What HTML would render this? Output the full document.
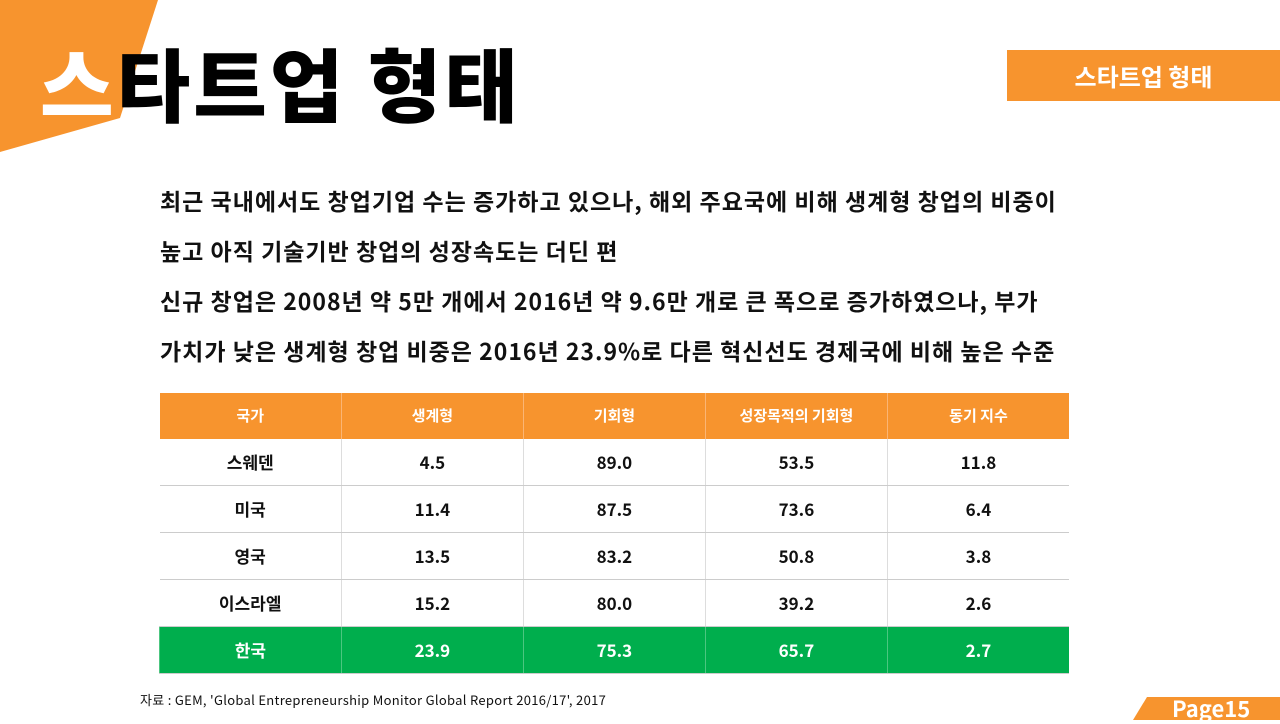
<!DOCTYPE html>
<html><head><meta charset="utf-8"><style>
body{margin:0;width:1280px;height:720px;overflow:hidden;background:#fff;position:relative;font-family:"Noto Sans CJK KR","Liberation Sans",sans-serif;}
.abs{position:absolute;}
table{border-collapse:collapse;position:absolute;left:159px;top:393px;width:910px;}
td,th{width:182px;text-align:center;vertical-align:middle;line-height:20px;font-size:17px;font-weight:bold;padding:0;border-left:1px solid #ddd;}
td:first-child,th:first-child{border-left:none;}
th{background:#f7942e;color:#fff;height:46px;font-size:15px;border-left:1px solid #fbb574;}
td{height:46px;border-bottom:1px solid #ccc;color:#111;}
tr.kr td{background:#00ae4d;color:#fff;border-left:1px solid #4cc680;}
.line{font-size:23px;font-weight:bold;color:#111;left:160px;letter-spacing:1px;white-space:nowrap;line-height:32px;}
</style></head><body>
<svg class="abs" style="left:0;top:0" width="1280" height="720">
<polygon points="0,0 158,0 120,118 0,152" fill="#f7942e"/>
<polygon points="1133,720 1147,697 1280,697 1280,720" fill="#f7942e"/>
</svg>
<div class="abs" style="left:40px;top:27px;font-size:80px;font-weight:900;color:#000;letter-spacing:3px;line-height:110px;white-space:nowrap;"><span style="color:#fff">스</span>타트업 형태</div>
<div class="abs" style="left:1007px;top:50px;width:273px;height:51px;background:#f7942e;color:#fff;font-size:24px;font-weight:bold;line-height:51px;text-align:center;">스타트업 형태</div>
<div class="abs line" style="top:184px">최근 국내에서도 창업기업 수는 증가하고 있으나, 해외 주요국에 비해 생계형 창업의 비중이</div>
<div class="abs line" style="top:234px">높고 아직 기술기반 창업의 성장속도는 더딘 편</div>
<div class="abs line" style="top:284px">신규 창업은 2008년 약 5만 개에서 2016년 약 9.6만 개로 큰 폭으로 증가하였으나, 부가</div>
<div class="abs line" style="top:334px">가치가 낮은 생계형 창업 비중은 2016년 23.9%로 다른 혁신선도 경제국에 비해 높은 수준</div>
<table>
<tr><th>국가</th><th>생계형</th><th>기회형</th><th>성장목적의 기회형</th><th>동기 지수</th></tr>
<tr><td>스웨덴</td><td>4.5</td><td>89.0</td><td>53.5</td><td>11.8</td></tr>
<tr><td>미국</td><td>11.4</td><td>87.5</td><td>73.6</td><td>6.4</td></tr>
<tr><td>영국</td><td>13.5</td><td>83.2</td><td>50.8</td><td>3.8</td></tr>
<tr><td>이스라엘</td><td>15.2</td><td>80.0</td><td>39.2</td><td>2.6</td></tr>
<tr class="kr"><td>한국</td><td>23.9</td><td>75.3</td><td>65.7</td><td>2.7</td></tr>
</table>
<div class="abs" style="left:140px;top:690px;font-size:13px;color:#111;letter-spacing:0.3px;white-space:nowrap;">자료 : GEM, 'Global Entrepreneurship Monitor Global Report 2016/17', 2017</div>
<div class="abs" style="left:1172px;top:694px;font-size:22px;font-weight:bold;color:#fff;line-height:28px;">Page15</div>
</body></html>
